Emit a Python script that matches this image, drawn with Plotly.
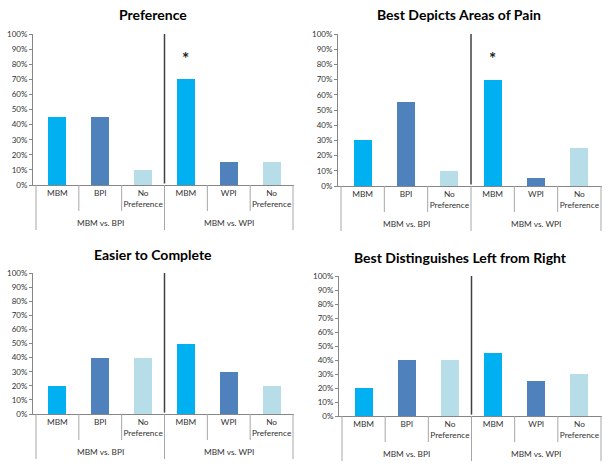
import plotly.graph_objects as go

# ---- data ----
categories = ["MBM", "BPI", "No Preference", "MBM", "WPI", "No Preference"]
tick_labels = ["MBM", "BPI", "No<br>Preference", "MBM", "WPI", "No<br>Preference"]
groups = ["MBM vs. BPI", "MBM vs. WPI"]
titles = ["Preference", "Best Depicts Areas of Pain",
          "Easier to Complete", "Best Distinguishes Left from Right"]
preference = [45, 45, 10, 70, 15, 15]
depicts_pain = [30, 55, 10, 70, 5, 25]
easier = [20, 40, 40, 50, 30, 20]
left_right = [20, 40, 40, 45, 25, 30]
series = [preference, depicts_pain, easier, left_right]
significant = [[3], [3], [], []]   # bars marked with "*"
asterisk_level = 84
y_ticks = list(range(0, 101, 10))

# ---- styling ----
W, H = 611, 466
C_MBM, C_OTHER, C_NONE = "#00B0F0", "#4F81BD", "#B7DEE8"
bar_colors = [C_MBM, C_OTHER, C_NONE, C_MBM, C_OTHER, C_NONE]
FONT = "Lato, 'Open Sans', sans-serif"
TXT = "#333333"

# panel pixel boxes: axis_x, slot_left, slot_right, y_top(100%), y_bottom(0%), title_x, title_y
panels = [
    (33, 36, 293, 34, 185, 153, 15),
    (338, 341, 601, 34, 186, 459, 15),
    (33, 36, 293, 273, 414, 153, 255),
    (339, 342, 601, 276, 416, 460, 257),
]

fig = go.Figure()
shapes = []
annotations = []
xpos = [i + 0.5 for i in range(len(categories))]

for p, (ax_x, sl, sr, yt, yb, tx, ty) in enumerate(panels):
    n = "" if p == 0 else str(p + 1)
    xref, yref = "x" + n, "y" + n
    s = (sr - sl) / 6.0
    dom_h = yb - yt
    fig.add_trace(go.Bar(
        x=xpos, y=series[p], width=0.42, marker=dict(color=bar_colors, line=dict(width=0)),
        xaxis=xref, yaxis=yref, showlegend=False, hoverinfo="skip"))
    fig.layout["xaxis" + n] = dict(
        domain=[ax_x / W, (sr + 1) / W], range=[-(sl - ax_x) / s, 6 + 1 / s],
        anchor=yref, tickvals=xpos, ticktext=tick_labels, showline=True,
        linecolor="#868686", linewidth=1, ticks="", showgrid=False, zeroline=False,
        automargin=False,
        tickfont=dict(family=FONT, size=8.3, color=TXT), fixedrange=True)
    fig.layout["yaxis" + n] = dict(
        domain=[1 - yb / H, 1 - yt / H], range=[0, 100], anchor=xref,
        tickvals=y_ticks, ticktext=[f"{v}%" for v in y_ticks], showline=True,
        linecolor="#868686", linewidth=1, ticks="outside", ticklen=3,
        tickcolor="#868686", showgrid=False, zeroline=False, automargin=False,
        tickfont=dict(family=FONT, size=8, color=TXT), fixedrange=True)
    # separators below category axis
    for k in range(7):
        depth = 45 if k % 3 == 0 else 26
        shapes.append(dict(type="line", xref=xref, yref=yref + " domain",
                           x0=k, x1=k, y0=0, y1=-depth / dom_h,
                           line=dict(color="#A6A6A6", width=1)))
    # dark divider between groups
    shapes.append(dict(type="line", xref=xref, yref=yref + " domain",
                       x0=3, x1=3, y0=0.01, y1=1,
                       line=dict(color="#404040", width=1.5)))
    for g, name in enumerate(groups):
        annotations.append(dict(text=name, xref=xref, yref=yref + " domain",
                                x=1.5 + 3 * g, y=-38 / dom_h, showarrow=False,
                                font=dict(family=FONT, size=8.3, color=TXT),
                                yanchor="middle"))
    for idx in significant[p]:
        annotations.append(dict(text="<b>*</b>", xref=xref, yref=yref,
                                x=xpos[idx], y=asterisk_level, showarrow=False,
                                font=dict(family=FONT, size=17, color="#222222"),
                                yanchor="middle"))
    annotations.append(dict(text=f"<b>{titles[p]}</b>", xref="paper", yref="paper",
                            x=tx / W, y=1 - ty / H, showarrow=False,
                            xanchor="center", yanchor="middle",
                            font=dict(family=FONT, size=14, color="#000000")))

fig.update_layout(
    width=W, height=H, margin=dict(l=0, r=0, t=0, b=0),
    paper_bgcolor="white", plot_bgcolor="white", template="none",
    shapes=shapes, annotations=annotations, bargap=0, showlegend=False)

fig.write_html("out.html", config={"displayModeBar": False},
               post_script="document.body.style.margin='0';document.body.style.padding='0';")
